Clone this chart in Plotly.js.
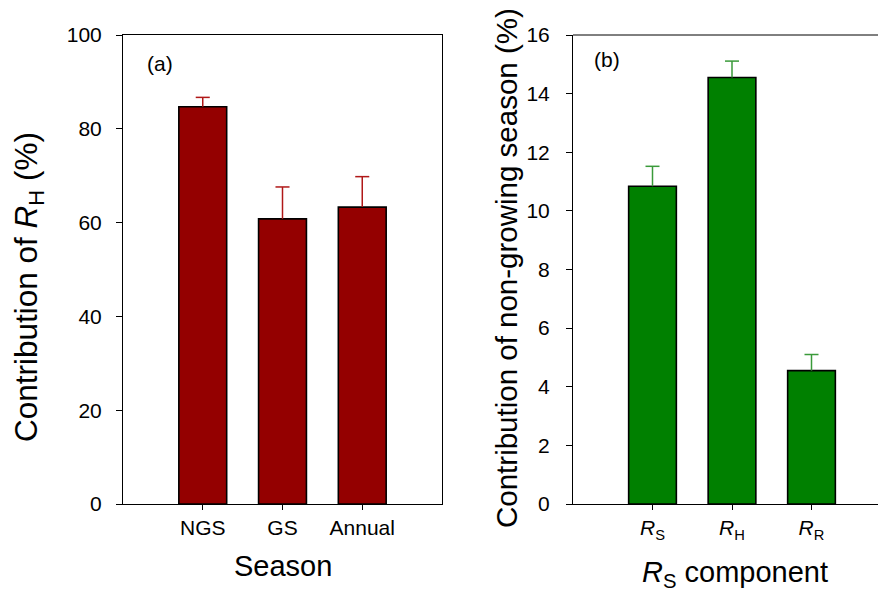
<!DOCTYPE html>
<html>
<head>
<meta charset="utf-8">
<script src="https://cdn.plot.ly/plotly-3.0.1.min.js"></script>
<style>html,body{margin:0;padding:0;background:#fff;}#chart{width:878px;height:589px;}</style>
</head>
<body>
<div id="chart"></div>
<script>
// Panel (a): contribution of R_H by season
const seasons = ["NGS", "GS", "Annual"];
const rhContribution = [84.7, 60.8, 63.3];
const rhError = [2.0, 6.8, 6.5];
const yTicksA = [0, 20, 40, 60, 80, 100];

// Panel (b): contribution of non-growing season by R_S component
const components = ["RS", "RH", "RR"];
const componentLabels = ["<i>R</i><sub>S</sub>", "<i>R</i><sub>H</sub>", "<i>R</i><sub>R</sub>"];
const ngsContribution = [10.84, 14.55, 4.55];
const ngsError = [0.68, 0.56, 0.55];
const yTicksB = [0, 2, 4, 6, 8, 10, 12, 14, 16];

const W = 878, H = 589;
const px = v => v / W;
const py = v => (H - v) / H;
const FONT = "Liberation Sans, Arial, sans-serif";
const CAP = 0.088; // half cap width in category units (style)

// Build upper-only error bar paths from the data arrays
function errPath(vals, errs) {
  const xs = [], ys = [];
  vals.forEach((v, i) => {
    xs.push(i, i, null, i - CAP, i + CAP, null);
    ys.push(v, v + errs[i], null, v + errs[i], v + errs[i], null);
  });
  return {xs, ys};
}
const eA = errPath(rhContribution, rhError);
const eB = errPath(ngsContribution, ngsError);

const traces = [
  {
    type: "bar", x: [0, 1, 2], y: rhContribution, width: 0.6,
    marker: {color: "#940000", line: {color: "#000", width: 1.6}},
    xaxis: "x", yaxis: "y", hoverinfo: "none"
  },
  {
    type: "bar", x: [0, 1, 2], y: ngsContribution, width: 0.6,
    marker: {color: "#008000", line: {color: "#000", width: 1.6}},
    xaxis: "x2", yaxis: "y2", hoverinfo: "none"
  },
  {
    type: "scatter", mode: "lines", x: eA.xs, y: eA.ys, connectgaps: false,
    line: {color: "#b01818", width: 1.5}, xaxis: "x", yaxis: "y", hoverinfo: "none"
  },
  {
    type: "scatter", mode: "lines", x: eB.xs, y: eB.ys, connectgaps: false,
    line: {color: "#3a9a3a", width: 1.5}, xaxis: "x2", yaxis: "y2", hoverinfo: "none"
  }
];

const axisCommon = {
  showgrid: false, zeroline: false, showline: true, linecolor: "#000", linewidth: 1,
  ticks: "outside", ticklen: 6, tickwidth: 1, tickcolor: "#000",
  tickfont: {family: FONT, size: 21, color: "#000"}, fixedrange: true
};

const yDomain = [py(504), py(35)];

const layout = {
  width: W, height: H,
  margin: {l: 0, r: 0, t: 0, b: 0},
  paper_bgcolor: "#fff", plot_bgcolor: "#fff",
  showlegend: false,
  font: {family: FONT, color: "#000"},
  xaxis: Object.assign({}, axisCommon, {
    domain: [px(123), px(442)], range: [-1, 3], mirror: true,
    tickvals: [0, 1, 2], ticktext: seasons, ticklen: 5
  }),
  yaxis: Object.assign({}, axisCommon, {
    domain: yDomain, range: [0, 100], mirror: true,
    tickvals: yTicksA, ticklabelstandoff: 10
  }),
  xaxis2: Object.assign({}, axisCommon, {
    domain: [px(573), 1], range: [-1, -1 + (878 - 573) / 79.5], anchor: "y2",
    tickvals: [0, 1, 2], ticktext: componentLabels, ticklen: 5
  }),
  yaxis2: Object.assign({}, axisCommon, {
    domain: yDomain, range: [0, 16], anchor: "x2",
    tickvals: yTicksB, ticklabelstandoff: 12
  }),
  shapes: [
    {type: "line", xref: "paper", yref: "paper", x0: px(573), x1: 1, y0: py(35), y1: py(35),
     line: {color: "#000", width: 1}}
  ],
  annotations: [
    {text: "(a)", xref: "paper", yref: "paper", x: px(145), y: py(63), xanchor: "left", yanchor: "middle",
     showarrow: false, font: {family: FONT, size: 21, color: "#000"}},
    {text: "(b)", xref: "paper", yref: "paper", x: px(592), y: py(60), xanchor: "left", yanchor: "middle",
     showarrow: false, font: {family: FONT, size: 21, color: "#000"}},
    {text: "Season", xref: "paper", yref: "paper", x: px(283), y: py(566), xanchor: "center", yanchor: "middle",
     showarrow: false, font: {family: FONT, size: 29, color: "#000"}},
    {text: "<i>R</i><sub>S</sub> component", xref: "paper", yref: "paper", x: px(735), y: py(574),
     xanchor: "center", yanchor: "middle", showarrow: false, font: {family: FONT, size: 29, color: "#000"}},
    {text: "Contribution of <i>R</i><sub>H</sub> (%)", xref: "paper", yref: "paper", x: px(28), y: py(287),
     xanchor: "center", yanchor: "middle", textangle: -90, showarrow: false,
     font: {family: FONT, size: 31.5, color: "#000"}},
    {text: "Contribution of non-growing season (%)", xref: "paper", yref: "paper", x: px(506), y: py(268),
     xanchor: "center", yanchor: "middle", textangle: -90, showarrow: false,
     font: {family: FONT, size: 29.5, color: "#000"}}
  ]
};

Plotly.newPlot("chart", traces, layout, {staticPlot: true, displayModeBar: false});
</script>
</body>
</html>
